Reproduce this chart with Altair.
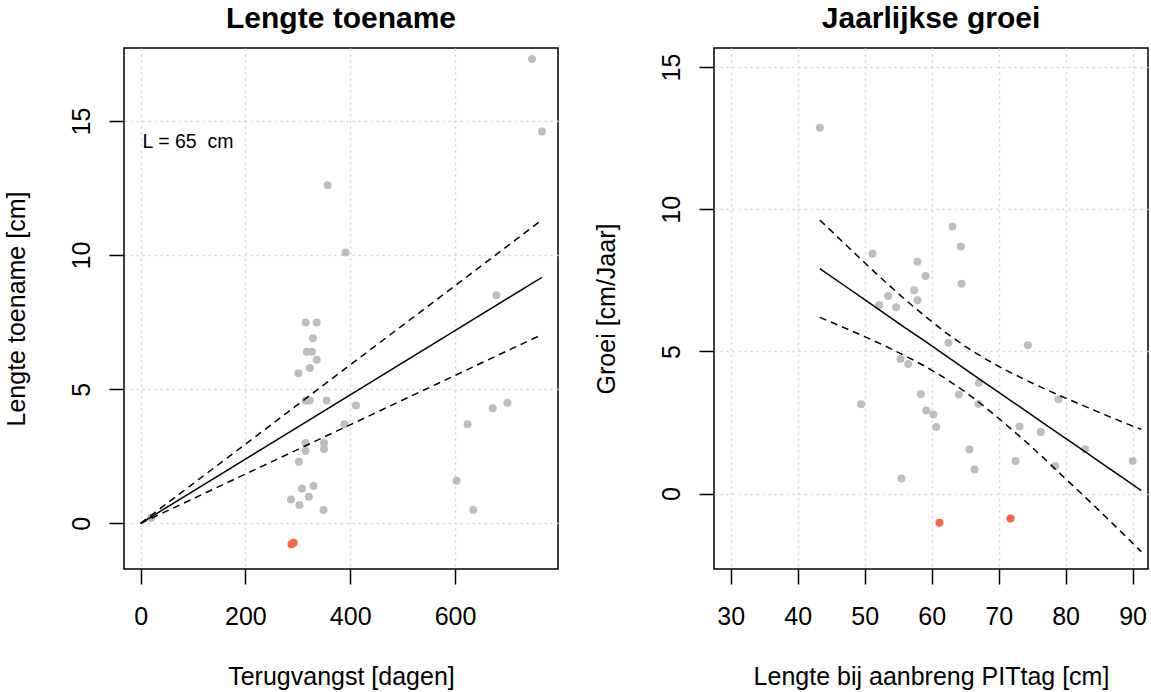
import altair as alt
import pandas as pd

FONT = "Liberation Sans"

# ---------------- Left panel: Lengte toename ----------------
days = [747, 766, 357, 391, 679, 315, 336, 329, 317, 327, 336, 323, 301, 315, 323,
        355, 411, 389, 672, 700, 624, 315, 350, 315, 350, 302, 603, 330, 308, 321,
        287, 303, 349, 635, 20]
incr = [17.31, 14.61, 12.6, 10.1, 8.5, 7.49, 7.49, 6.9, 6.4, 6.4, 6.1, 5.79, 5.6, 4.58, 4.58,
        4.58, 4.39, 3.70, 4.29, 4.5, 3.70, 3.0, 3.0, 2.70, 2.77, 2.30, 1.59, 1.39, 1.30, 0.99,
        0.89, 0.69, 0.50, 0.50, 0.20]
red_days = [288, 292]
red_incr = [-0.78, -0.72]
line_days = [0, 766]
fit_incr = [0, 9.17]
upper_incr = [0, 11.31]
lower_incr = [0, 7.04]

# ---------------- Right panel: Jaarlijkse groei ----------------
length = [43.3, 63.1, 64.35, 51.16, 57.88, 59.08, 64.45, 57.38, 53.5, 57.88, 52.16, 54.7,
          62.5, 74.36, 55.34, 56.49, 67.04, 78.94, 58.38, 64.06, 49.47, 66.99, 59.18, 60.27,
          60.67, 73.12, 76.3, 65.65, 82.93, 72.52, 90.0, 66.4, 78.44, 55.49]
growth = [12.87, 9.39, 8.69, 8.44, 8.15, 7.65, 7.38, 7.15, 6.95, 6.80, 6.62, 6.55,
          5.31, 5.22, 4.73, 4.56, 3.90, 3.32, 3.50, 3.49, 3.14, 3.15, 2.92, 2.78,
          2.34, 2.36, 2.17, 1.55, 1.56, 1.15, 1.15, 0.85, 0.97, 0.53]
red_length = [61.17, 71.77]
red_growth = [-1.02, -0.87]
band_x = [43.3, 47, 50, 53, 56, 59, 62, 65, 68, 71, 74, 77, 80, 83, 86, 89, 91.3]
band_fit = [7.91, 7.31, 6.82, 6.33, 5.84, 5.36, 4.87, 4.38, 3.89, 3.40, 2.92, 2.43,
            1.94, 1.46, 0.97, 0.48, 0.11]
band_upper = [9.62, 8.79, 8.12, 7.46, 6.83, 6.24, 5.68, 5.18, 4.74, 4.35, 4.00, 3.67,
              3.36, 3.06, 2.76, 2.47, 2.26]
band_lower = [6.20, 5.83, 5.52, 5.20, 4.85, 4.48, 4.06, 3.58, 3.04, 2.45, 1.84, 1.19,
              0.52, -0.14, -0.82, -1.51, -2.04]

GRAY = "#bebebe"
RED = "#ff6347"
W, H = 434, 521


def make_panel(title, xs, ys, rx, ry, lx, lfit, lup, llo, xdom, ydom, xticks, yticks,
               xtitle, ytitle, note=None):
    xscale = alt.Scale(domain=xdom, nice=False, zero=False)
    yscale = alt.Scale(domain=ydom, nice=False, zero=False)
    xaxis = alt.Axis(values=xticks, title=xtitle, labelPadding=20, titlePadding=35,
                     labelBaseline="top", labelFlush=False)
    yaxis = alt.Axis(values=yticks, title=ytitle, labelAngle=270, labelAlign="center",
                     labelBaseline="bottom", labelPadding=15, titlePadding=40)
    enc = dict(x=alt.X("x:Q", scale=xscale, axis=xaxis),
               y=alt.Y("y:Q", scale=yscale, axis=yaxis))

    pts = alt.Chart(pd.DataFrame({"x": xs, "y": ys})).mark_circle(
        size=64, color=GRAY, opacity=1).encode(**enc)
    reds = alt.Chart(pd.DataFrame({"x": rx, "y": ry})).mark_circle(
        size=64, color=RED, opacity=1).encode(**enc)
    fit = alt.Chart(pd.DataFrame({"x": lx, "y": lfit})).mark_line(
        color="black", strokeWidth=1.5).encode(**enc)
    up = alt.Chart(pd.DataFrame({"x": lx, "y": lup})).mark_line(
        color="black", strokeWidth=1.5, strokeDash=[7, 5]).encode(**enc)
    lo = alt.Chart(pd.DataFrame({"x": lx, "y": llo})).mark_line(
        color="black", strokeWidth=1.5, strokeDash=[7, 5]).encode(**enc)
    layers = [pts, reds, fit, up, lo]
    if note is not None:
        txt = alt.Chart(pd.DataFrame({"x": [note[0]], "y": [note[1]], "t": [note[2]]})).mark_text(
            align="left", baseline="middle", fontSize=19.5, font=FONT, color="black"
        ).encode(x=alt.X("x:Q", scale=xscale, axis=xaxis),
                 y=alt.Y("y:Q", scale=yscale, axis=yaxis), text="t:N")
        layers.append(txt)
    return alt.layer(*layers).properties(
        width=W, height=H,
        title=alt.TitleParams(title, fontSize=30, font=FONT, fontWeight="bold",
                              anchor="middle", offset=14, color="black"))


left = make_panel("Lengte toename", days, incr, red_days, red_incr,
                  line_days, fit_incr, upper_incr, lower_incr,
                  [-31.7, 796.6], [-1.70, 17.72], [0, 200, 400, 600], [0, 5, 10, 15],
                  "Terugvangst [dagen]", "Lengte toename [cm]",
                  note=(3.8, 14.2, "L = 65\u00a0 cm"))
right = make_panel("Jaarlijkse groei", length, growth, red_length, red_growth,
                   band_x, band_fit, band_upper, band_lower,
                   [27.5, 92.3], [-2.65, 15.67], [30, 40, 50, 60, 70, 80, 90], [0, 5, 10, 15],
                   "Lengte bij aanbreng PITtag [cm]", "Groei [cm/Jaar]")

chart = alt.hconcat(left, right, spacing=34).properties(
    padding={"left": 3, "top": 3, "right": 2, "bottom": 2},
    background="white"
).configure_view(
    stroke="black", strokeWidth=1.5, fill="white"
).configure_axis(
    domain=False, grid=True, gridColor="#d3d3d3", gridDash=[2, 4], gridWidth=1.5,
    tickSize=15, tickColor="black", tickWidth=1.5,
    labelFont=FONT, labelFontSize=25, labelColor="black",
    titleFont=FONT, titleFontSize=25, titleFontWeight="normal", titleColor="black"
)

chart.save("out.html", embed_options={"renderer": "svg", "actions": False})
